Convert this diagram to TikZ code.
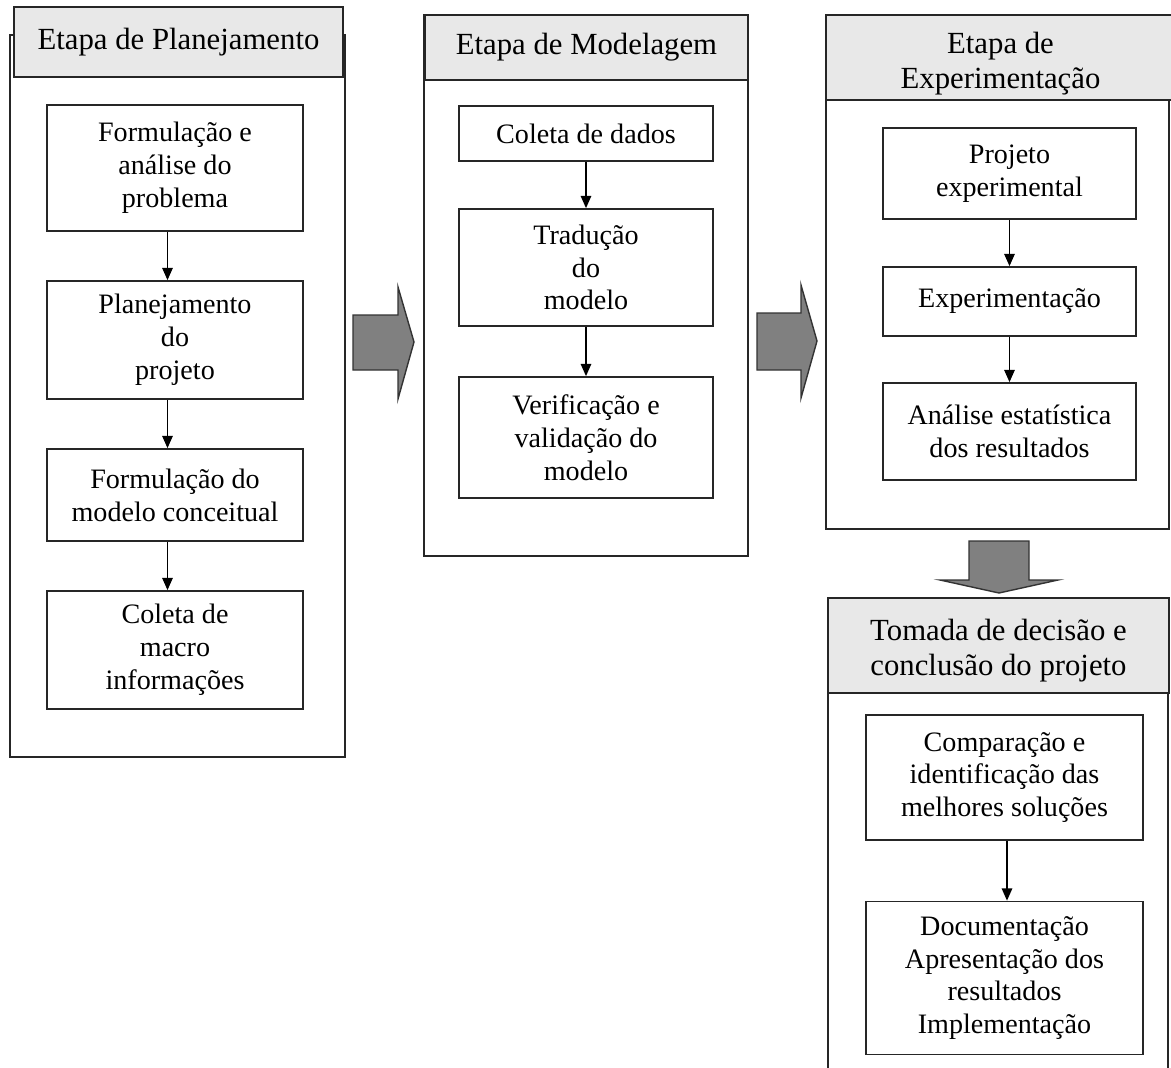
\documentclass[tikz,border=0pt]{standalone}
\usepackage{fontspec}
\setmainfont{Liberation Serif}
\usetikzlibrary{arrows.meta,fit}
\definecolor{hdr}{HTML}{E8E8E8}
\definecolor{blk}{HTML}{808080}
\begin{document}
\begin{tikzpicture}[x=0.02cm,y=-0.02cm,
 sz/.style 2 args={minimum width={#1*0.02cm},minimum height={#2*0.02cm}},
 outerbox/.style={draw=black!85,line width=1.3pt,inner sep=0pt},
 hdrbox/.style={draw=black!85,line width=1.1pt,fill=hdr,inner sep=0pt,align=center,font=\fontsize{17.5}{20}\selectfont},
 hdrtext/.style={inner sep=0pt,align=center,font=\fontsize{17.5}{20}\selectfont},
 inbox/.style={draw=black!85,line width=1pt,inner sep=0pt,align=center,font=\fontsize{16}{18.7}\selectfont},
 link/.style={-{Triangle[length=7pt,width=6pt]},line width=0.8pt},
 bigarrow/.style={fill=blk,draw=black!80,line width=0.8pt,line join=miter}]
\clip (0,0) rectangle (1171,1068);
\fill[white] (0,0) rectangle (1171,1068);
% panel 1
\node[outerbox,fit={(10,35)(345,757)}] (p1) {};
\node[hdrbox,sz={329}{70}] (h1) at (178.5,42) {Etapa de Planejamento};
\node[inbox,sz={256}{126}] (a1) at (175,168) {Formulação e\\análise do\\problema};
\node[inbox,sz={256}{118}] (a2) at (175,340) {Planejamento\\do\\projeto};
\node[inbox,sz={256}{92}] (a3) at (175,495) {Formulação do\\modelo conceitual};
\node[inbox,sz={256}{118}] (a4) at (175,650) {Coleta de\\macro\\informações};
\draw[link] ([xshift=-0.15cm]a1.south) -- ([xshift=-0.15cm]a2.north);
\draw[link] ([xshift=-0.15cm]a2.south) -- ([xshift=-0.15cm]a3.north);
\draw[link] ([xshift=-0.15cm]a3.south) -- ([xshift=-0.15cm]a4.north);
% panel 2
\node[outerbox,fit={(424,15)(748,556)}] (p2) {};
\node[hdrbox,sz={323}{65}] (h2) at (586.5,47.5) {Etapa de Modelagem};
\node[inbox,sz={254}{55}] (b1) at (586,133.5) {Coleta de dados};
\node[inbox,sz={254}{117}] (b2) at (586,267.5) {Tradução\\do\\modelo};
\node[inbox,sz={254}{121}] (b3) at (586,437.5) {Verificação e\\validação do\\modelo};
\draw[link] (b1) -- (b2);
\draw[link] (b2) -- (b3);
% panel 3
\node[outerbox,fit={(826,58)(1169,529)}] (p3) {};
\node[hdrbox,sz={349}{85}] (h3) at (1000.5,57.5) {};
\node[hdrtext] (h3t) at (1000.5,64) {Etapa de\\Experimentação};
\node[inbox,sz={253}{91}] (c1) at (1009.5,173.5) {Projeto\\experimental};
\node[inbox,sz={253}{69}] (c2) at (1009.5,301.5) {Experimentação};
\node[inbox,sz={253}{97}] (c3) at (1009.5,431.5) {Análise estatística\\dos resultados};
\draw[link] (c1) -- (c2);
\draw[link] (c2) -- (c3);
% panel 4
\node[outerbox,fit={(828,640)(1168,1100)}] (p4) {};
\node[hdrbox,sz={341}{95}] (h4) at (998.5,645.5) {};
\node[hdrtext] (h4t) at (998.5,651) {Tomada de decisão e\\conclusão do projeto};
\node[inbox,sz={277}{125}] (d1) at (1004.5,777.5) {Comparação e\\identificação das\\melhores soluções};
\node[inbox,sz={277}{153}] (d2) at (1004.5,978) {Documentação\\Apresentação dos\\resultados\\Implementação};
\draw[link] ([xshift=0.05cm]d1.south) -- ([xshift=0.05cm]d2.north);
% block arrows
\draw[bigarrow] (353,315) -- (398,315) -- (398,287) -- (414,342) -- (398,399) -- (398,370) -- (353,370) -- cycle;
\draw[bigarrow] (757,313) -- (801,313) -- (801,285) -- (817,341) -- (801,398) -- (801,370) -- (757,370) -- cycle;
\draw[bigarrow] (969,541) -- (1029,541) -- (1029,580) -- (1058,580) -- (999,593) -- (940,580) -- (969,580) -- cycle;
\end{tikzpicture}
\end{document}
